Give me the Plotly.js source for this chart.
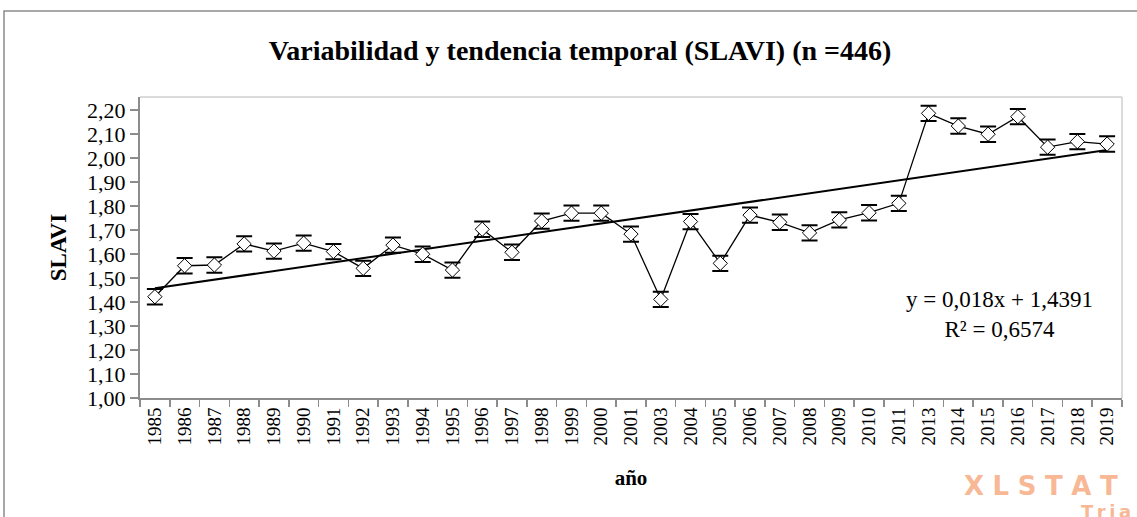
<!DOCTYPE html>
<html>
<head>
<meta charset="utf-8">
<script src="https://cdn.plot.ly/plotly-3.0.1.min.js"></script>
<style>
html,body{margin:0;padding:0;background:#fff;}
#chart{width:1137px;height:517px;}
</style>
</head>
<body>
<div id="chart"></div>
<script>
var years = ['1985','1986','1987','1988','1989','1990','1991','1992','1993','1994','1995','1996','1997','1998','1999','2000','2001','2003','2004','2005','2006','2007','2008','2009','2010','2011','2013','2014','2015','2016','2017','2018','2019'];
var slavi = [1.422,1.551,1.554,1.642,1.612,1.645,1.610,1.540,1.637,1.599,1.533,1.703,1.607,1.737,1.770,1.770,1.683,1.411,1.735,1.561,1.762,1.732,1.688,1.742,1.772,1.811,2.186,2.133,2.099,2.172,2.045,2.068,2.058];
var errs = [0.032,0.032,0.032,0.032,0.032,0.032,0.032,0.032,0.032,0.032,0.032,0.032,0.032,0.032,0.032,0.032,0.032,0.032,0.032,0.032,0.032,0.032,0.032,0.032,0.032,0.032,0.032,0.032,0.032,0.032,0.032,0.032,0.032];
var trendX = ['1985','2019'];
var trendY = [1.457,2.033];

var serif = 'Liberation Serif, Times New Roman, serif';
var axisGray = '#8c8c8c';
var wm = '#f8b895';

var traces = [
  {
    x: trendX, y: trendY, type: 'scatter', mode: 'lines',
    line: {color: '#000', width: 2}, hoverinfo: 'skip', showlegend: false
  },
  {
    x: years, y: slavi, type: 'scatter', mode: 'lines+markers',
    line: {color: '#000', width: 1.3},
    marker: {symbol: 'diamond', size: 11, color: '#fff', line: {color: '#000', width: 1}},
    error_y: {type: 'data', array: errs, visible: true, color: '#000', thickness: 2, width: 8},
    showlegend: false
  }
];

var layout = {
  width: 1137, height: 517,
  margin: {l: 140, r: 15, t: 97, b: 119},
  paper_bgcolor: '#fff', plot_bgcolor: '#fff',
  separators: ', ',
  font: {family: serif, color: '#000', size: 19},
  title: {
    text: '<b>Variabilidad y tendencia temporal (SLAVI) (n =446)</b>',
    font: {family: serif, size: 28, color: '#000'},
    x: 580/1137, xref: 'container', xanchor: 'center',
    y: 1 - 50/517, yref: 'container', yanchor: 'middle'
  },
  xaxis: {
    type: 'category', categoryorder: 'array', categoryarray: years,
    range: [-0.5, years.length - 0.5],
    tickson: 'boundaries', ticks: 'outside', ticklen: 7, tickcolor: axisGray, tickwidth: 1.5,
    showline: true, linecolor: axisGray, linewidth: 2,
    showgrid: false, zeroline: false,
    tickangle: -90, tickfont: {family: serif, size: 19, color: '#000'},
    title: {text: '<b>año</b>', font: {family: serif, size: 21, color: '#000'}, standoff: 26},
    fixedrange: true
  },
  yaxis: {
    range: [1.0, 2.254], tick0: 1.0, dtick: 0.1, tickformat: '.2f',
    ticks: 'outside', ticklen: 8, tickcolor: axisGray, tickwidth: 1.5,
    showline: true, linecolor: axisGray, linewidth: 2,
    showgrid: false, zeroline: false,
    tickfont: {family: serif, size: 22, color: '#000'},
    title: {text: '<b>SLAVI</b>', font: {family: serif, size: 23, color: '#000'}, standoff: 14},
    fixedrange: true
  },
  shapes: [
    {type: 'line', xref: 'paper', yref: 'paper', x0: 0, x1: 1, y0: 1, y1: 1, line: {color: '#cfcfcf', width: 1.5}},
    {type: 'line', xref: 'paper', yref: 'paper', x0: 1, x1: 1, y0: 0, y1: 1, line: {color: '#cfcfcf', width: 1.5}},
    {type: 'rect', xref: 'paper', yref: 'paper', x0: -136/982, x1: 1.03, y0: -1.5, y1: (398-11)/301, line: {color: '#8c8c8c', width: 1.5}, fillcolor: 'rgba(0,0,0,0)'}
  ],
  annotations: [
    {
      text: 'y = 0,018x + 1,4391<br>R² = 0,6574', xref: 'paper', yref: 'paper',
      x: (999-140)/982, y: (398-314)/301, xanchor: 'center', yanchor: 'middle', align: 'center',
      showarrow: false, font: {family: 'Liberation Serif, serif', size: 23, color: '#000'}
    },
    {
      text: '<b>X\u2004L\u2004S\u2004T\u2004A\u2004T</b>', xref: 'paper', yref: 'paper',
      x: (962-140)/982, y: (398-486)/301, xanchor: 'left', yanchor: 'middle',
      showarrow: false, font: {family: 'DejaVu Sans, sans-serif', size: 26, color: wm}
    },
    {
      text: '<b>T\u2009r\u2009i\u2009a</b>', xref: 'paper', yref: 'paper',
      x: (1079-140)/982, y: (398-499)/301, xanchor: 'left', yanchor: 'top',
      showarrow: false, font: {family: 'DejaVu Sans, sans-serif', size: 18, color: wm}
    }
  ]
};

Plotly.newPlot('chart', traces, layout, {displayModeBar: false, staticPlot: true});
</script>
</body>
</html>
